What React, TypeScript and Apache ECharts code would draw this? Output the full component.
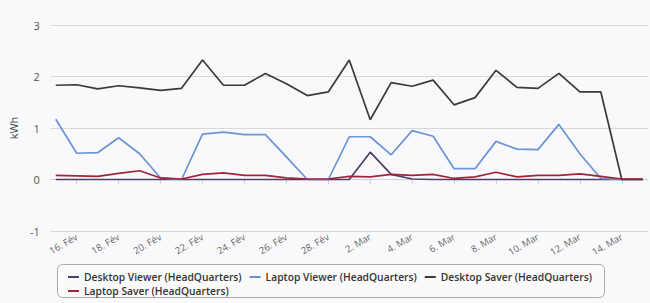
import React, { useEffect, useRef } from "react";
import * as echarts from "echarts";

const dates = [
  "15. Fév", "16. Fév", "17. Fév", "18. Fév", "19. Fév", "20. Fév", "21. Fév",
  "22. Fév", "23. Fév", "24. Fév", "25. Fév", "26. Fév", "27. Fév", "28. Fév",
  "1. Mar", "2. Mar", "3. Mar", "4. Mar", "5. Mar", "6. Mar", "7. Mar",
  "8. Mar", "9. Mar", "10. Mar", "11. Mar", "12. Mar", "13. Mar", "14. Mar", "15. Mar",
];

const tickIndexes = [1, 3, 5, 7, 9, 11, 13, 15, 17, 19, 21, 23, 25, 27];

const desktopViewer = [
  0, 0, 0, 0, 0, 0, 0, 0, 0, 0, 0, 0, 0, 0,
  0, 0.53, 0.1, 0.01, 0, 0, 0, 0, 0, 0, 0, 0, 0, 0, 0,
];

const laptopViewer = [
  1.17, 0.51, 0.52, 0.81, 0.5, 0.03, 0, 0.88, 0.92, 0.87, 0.87, 0.44, 0, 0,
  0.83, 0.83, 0.48, 0.95, 0.84, 0.21, 0.21, 0.74, 0.59, 0.58, 1.07, 0.5, 0.02, 0, 0,
];

const desktopSaver = [
  1.83, 1.84, 1.76, 1.82, 1.78, 1.73, 1.77, 2.32, 1.83, 1.83, 2.06, 1.86, 1.63, 1.7,
  2.32, 1.16, 1.88, 1.81, 1.93, 1.45, 1.59, 2.12, 1.79, 1.77, 2.06, 1.7, 1.7, 0, 0,
];

const laptopSaver = [
  0.08, 0.07, 0.06, 0.12, 0.17, 0.03, 0.01, 0.1, 0.13, 0.08, 0.08, 0.03, 0.01, 0.01,
  0.06, 0.05, 0.1, 0.08, 0.1, 0.02, 0.05, 0.14, 0.05, 0.08, 0.08, 0.11, 0.06, 0.01, 0.01,
];

const seriesNames = [
  "Desktop Viewer (HeadQuarters)",
  "Laptop Viewer (HeadQuarters)",
  "Desktop Saver (HeadQuarters)",
  "Laptop Saver (HeadQuarters)",
];
const seriesColors = ["#4e3d63", "#6b93d6", "#3a3a3d", "#a3243a"];

export default function App() {
  const ref = useRef<HTMLDivElement>(null);

  useEffect(() => {
    if (!ref.current) return;
    const chart = echarts.init(ref.current, null, { renderer: "svg" });
    const allData = [desktopViewer, laptopViewer, desktopSaver, laptopSaver];
    const font = "Open Sans";
    const legendBase = {
      left: 68,
      padding: 0,
      itemGap: 8,
      itemWidth: 11,
      itemHeight: 2,
      icon: "rect",
      orient: "horizontal",
      textStyle: {
        fontSize: 10.3,
        fontFamily: font,
        fontWeight: 600,
        color: "#333333",
        lineHeight: 12,
      },
    };
    chart.setOption({
      animation: false,
      backgroundColor: "#f9f9fb",
      graphic: [
        {
          type: "rect",
          z: -1,
          shape: { x: 57.5, y: 264.5, width: 547, height: 33, r: 5 },
          style: { fill: "#fafafa", stroke: "#a9a9a9", lineWidth: 1 },
        },
      ],
      grid: { left: 48, right: 2, top: 25, bottom: 72 },
      xAxis: {
        type: "value",
        min: -0.24,
        max: 28.25,
        splitLine: { show: false },
        axisLine: { show: true, lineStyle: { color: "#c8d4e2", width: 1 } },
        axisTick: {
          show: true,
          length: 5,
          customValues: tickIndexes,
          lineStyle: { color: "#c8d4e2" },
        },
        axisLabel: {
          customValues: tickIndexes,
          rotate: 30,
          margin: 5,
          fontSize: 9.5,
          fontFamily: font,
          color: "#666666",
          formatter: (v: number) => dates[Math.round(v)],
        },
      },
      yAxis: {
        type: "value",
        min: -1,
        max: 3,
        interval: 1,
        name: "kWh",
        nameLocation: "middle",
        nameGap: 27,
        nameTextStyle: { fontSize: 11, fontFamily: font, color: "#444444" },
        axisLine: { show: false },
        axisTick: { show: false },
        splitLine: { lineStyle: { color: "#d8d8d8", width: 1 } },
        axisLabel: { fontSize: 11, fontFamily: font, color: "#555555", margin: 11 },
      },
      legend: [
        { ...legendBase, top: 271, data: seriesNames.slice(0, 3) },
        { ...legendBase, top: 285, data: seriesNames.slice(3) },
      ],
      series: seriesNames.map((name, i) => ({
        name,
        type: "line",
        data: allData[i].map((v, j) => [j, v]),
        showSymbol: false,
        symbol: "none",
        color: seriesColors[i],
        lineStyle: { width: 1.7, color: seriesColors[i] },
      })),
    });
    return () => chart.dispose();
  }, []);

  return (
    <div
      ref={ref}
      style={{ position: "fixed", left: 0, top: 0, width: 650, height: 303 }}
    />
  );
}
